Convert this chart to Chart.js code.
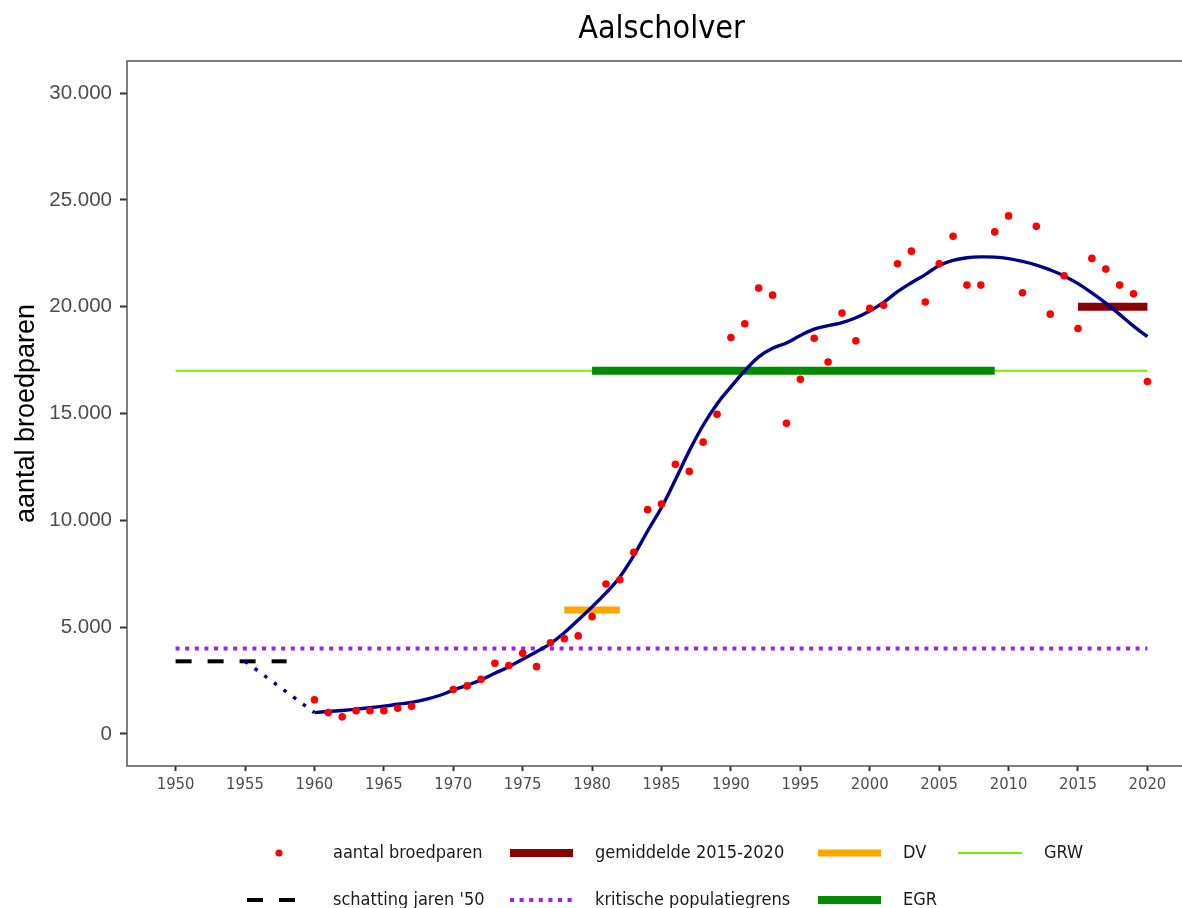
<!DOCTYPE html>
<html>
<head>
<meta charset="utf-8">
<script src="https://cdn.jsdelivr.net/npm/chart.js@4.4.1/dist/chart.umd.min.js"></script>
<style>
  html, body { margin: 0; padding: 0; background: #fff; overflow: hidden; }
  #wrap { width: 1200px; height: 908px; }
</style>
</head>
<body>
<div id="wrap"><canvas id="chart" width="1200" height="908"></canvas></div>
<script>
// counted breeding pairs
const countYears = [1960, 1961, 1962, 1963, 1964, 1965, 1966, 1967, 1970, 1971, 1972, 1973, 1974, 1975,
  1976, 1977, 1978, 1979, 1980, 1981, 1982, 1983, 1984, 1985, 1986, 1987, 1988, 1989, 1990, 1991,
  1992, 1993, 1994, 1995, 1996, 1997, 1998, 1999, 2000, 2001, 2002, 2003, 2004, 2005, 2006, 2007,
  2008, 2009, 2010, 2011, 2012, 2013, 2014, 2015, 2016, 2017, 2018, 2019, 2020];
const countPairs = [1600, 1000, 800, 1090, 1090, 1090, 1200, 1300, 2080, 2250, 2560, 3310, 3200, 3780,
  3150, 4270, 4460, 4590, 5490, 7020, 7220, 8500, 10500, 10760, 12620, 12290, 13660, 14960, 18560, 19200,
  20870, 20540, 14540, 16600, 18520, 17410, 19700, 18400, 19920, 20070, 22010, 22600, 20220, 22010, 23300, 21010,
  21010, 23500, 24250, 20650, 23760, 19650, 21450, 18980, 22260, 21760, 21010, 20600, 16500];

// smoothed trend
const trendYears = [1960, 1961, 1962, 1963, 1964, 1965, 1966, 1967, 1968, 1969, 1970, 1971, 1972, 1973,
  1974, 1975, 1976, 1977, 1978, 1979, 1980, 1981, 1982, 1983, 1984, 1985, 1986, 1987, 1988, 1989, 1990,
  1991, 1992, 1993, 1994, 1995, 1996, 1997, 1998, 1999, 2000, 2001, 2002, 2003, 2004, 2005, 2006, 2007,
  2008, 2009, 2010, 2011, 2012, 2013, 2014, 2015, 2016, 2017, 2018, 2019, 2020];
const trendPairs = [1000, 1050, 1100, 1160, 1230, 1300, 1390, 1480, 1620, 1800, 2050, 2280, 2530, 2840,
  3150, 3500, 3850, 4230, 4740, 5330, 5950, 6600, 7350, 8350, 9500, 10600, 11900, 13250, 14450, 15450, 16250,
  17000, 17650, 18050, 18300, 18650, 18950, 19110, 19250, 19480, 19800, 20200, 20700, 21120, 21500, 21930, 22170, 22290,
  22330, 22320, 22250, 22120, 21950, 21720, 21440, 21080, 20650, 20170, 19640, 19090, 18600];

// estimate for the fifties and the link to the first count
const est50Years = [1950, 1958];
const est50Pairs = [3400, 3400];
const linkYears = [1955, 1960];
const linkPairs = [3400, 1000];

// reference levels
const criticalYears = [1950, 2020];
const criticalLevel = 4000;
const grwYears = [1950, 2020];
const grwLevel = 17000;
const egrYears = [1980, 2009];
const egrLevel = 17000;
const dvYears = [1978, 1982];
const dvLevel = 5800;
const meanYears = [2015, 2020];
const meanLevel = 20000;

const xTicks = [1950, 1955, 1960, 1965, 1970, 1975, 1980, 1985, 1990, 1995, 2000, 2005, 2010, 2015, 2020];
const yTicks = [0, 5000, 10000, 15000, 20000, 25000, 30000];

const pts = (xs, ys) => xs.map((x, i) => ({ x: x, y: Array.isArray(ys) ? ys[i] : ys }));

const legendFont = '18px "DejaVu Sans Condensed", "DejaVu Sans", sans-serif';

const legendItems = [
  { text: 'aantal broedparen', col: 0, row: 0, kind: 'point', color: '#FF0000' },
  { text: 'schatting jaren \'50', col: 0, row: 1, kind: 'line', color: '#000000', width: 4, dash: [16, 16] },
  { text: 'gemiddelde 2015-2020', col: 1, row: 0, kind: 'line', color: '#8B0000', width: 8 },
  { text: 'kritische populatiegrens', col: 1, row: 1, kind: 'line', color: '#A020F0', width: 4, dash: [4, 5.6] },
  { text: 'DV', col: 2, row: 0, kind: 'line', color: '#FFA500', width: 7 },
  { text: 'EGR', col: 2, row: 1, kind: 'line', color: '#008B00', width: 8 },
  { text: 'GRW', col: 3, row: 0, kind: 'line', color: '#76EE00', width: 2 }
];
const legendCols = [{ k0: 247, k1: 297, tx: 333 }, { k0: 510, k1: 573, tx: 595 },
  { k0: 818, k1: 881, tx: 903 }, { k0: 958, k1: 1022, tx: 1044 }];
const legendRows = [853, 900];

const framePlugin = {
  id: 'frame',
  afterDraw(chart) {
    const { ctx, chartArea: a } = chart;
    ctx.save();
    ctx.strokeStyle = '#555555';
    ctx.lineWidth = 1.5;
    ctx.strokeRect(a.left, a.top, a.right - a.left, a.bottom - a.top);
    ctx.restore();
  }
};

const legendPlugin = {
  id: 'gridLegend',
  afterDraw(chart) {
    const ctx = chart.ctx;
    ctx.save();
    legendItems.forEach(it => {
      const c = legendCols[it.col];
      const y = legendRows[it.row];
      if (it.kind === 'point') {
        ctx.fillStyle = it.color;
        ctx.beginPath();
        ctx.arc(279, y, 3.6, 0, Math.PI * 2);
        ctx.fill();
      } else {
        ctx.strokeStyle = it.color;
        ctx.lineWidth = it.width;
        ctx.setLineDash(it.dash || []);
        ctx.lineCap = 'butt';
        ctx.beginPath();
        ctx.moveTo(c.k0, y);
        ctx.lineTo(c.k1, y);
        ctx.stroke();
        ctx.setLineDash([]);
      }
      ctx.fillStyle = '#1A1A1A';
      ctx.font = legendFont;
      ctx.textBaseline = 'middle';
      ctx.textAlign = 'left';
      ctx.fillText(it.text, c.tx, y);
    });
    ctx.restore();
  }
};

const line = (label, data, color, width, dash) => ({
  type: 'line', label, data, borderColor: color, borderWidth: width,
  borderDash: dash || [], pointRadius: 0, fill: false, borderCapStyle: 'butt'
});

new Chart(document.getElementById('chart'), {
  type: 'scatter',
  data: {
    datasets: [
      { type: 'scatter', label: 'aantal broedparen', data: pts(countYears, countPairs),
        backgroundColor: '#FF0000', borderWidth: 0, pointRadius: 3.8 },
      Object.assign(line('trend', pts(trendYears, trendPairs), '#00008B', 3.4),
        { tension: 0.4, borderJoinStyle: 'round' }),
      line('link', pts(linkYears, linkPairs), '#00008B', 3.5, [3.5, 8.5]),
      line('gemiddelde 2015-2020', pts(meanYears, meanLevel), '#8B0000', 8),
      line('DV', pts(dvYears, dvLevel), '#FFA500', 7),
      line('EGR', pts(egrYears, egrLevel), '#008B00', 8),
      line('GRW', pts(grwYears, grwLevel), '#76EE00', 2),
      line('kritische populatiegrens', pts(criticalYears, criticalLevel), '#A020F0', 4, [4, 5.6]),
      line('schatting jaren \'50', pts(est50Years, est50Pairs), '#000000', 4, [16, 16])
    ]
  },
  options: {
    responsive: false,
    animation: false,
    events: [],
    layout: { padding: { top: 0, left: 0, right: 4, bottom: 102 } },
    plugins: {
      legend: { display: false },
      tooltip: { enabled: false },
      title: {
        display: true,
        text: 'Aalscholver',
        fullSize: false,
        color: '#000000',
        font: { family: '"DejaVu Sans Condensed", "DejaVu Sans", sans-serif', size: 32, weight: 'normal', lineHeight: 1.0 },
        padding: { top: 14, bottom: 15 }
      }
    },
    scales: {
      x: {
        type: 'linear',
        min: 1946.5,
        max: 2023.5,
        afterBuildTicks: s => { s.ticks = xTicks.map(v => ({ value: v })); },
        afterFit: s => { s.height = 40; },
        border: { display: false },
        grid: { display: true, drawOnChartArea: false, drawTicks: true, tickLength: 5, tickWidth: 2, tickColor: '#333333' },
        ticks: {
          color: '#4D4D4D',
          padding: 4,
          maxRotation: 0,
          font: { family: '"DejaVu Sans Condensed", "DejaVu Sans", sans-serif', size: 16.5 },
          callback: v => String(v)
        }
      },
      y: {
        type: 'linear',
        min: -1500,
        max: 31500,
        afterBuildTicks: s => { s.ticks = yTicks.map(v => ({ value: v })); },
        afterFit: s => { s.width = 127; },
        border: { display: false },
        grid: { display: true, drawOnChartArea: false, drawTicks: true, tickLength: 7, tickWidth: 2, tickColor: '#333333' },
        ticks: {
          color: '#4D4D4D',
          padding: 8,
          font: { family: '"Liberation Sans", Arial, sans-serif', size: 20.5 },
          callback: v => v === 0 ? '0' : v.toLocaleString('nl-NL')
        },
        title: {
          display: true,
          text: 'aantal broedparen',
          color: '#000000',
          font: { family: '"Liberation Sans", Arial, sans-serif', size: 27 },
          padding: { top: 10, bottom: 0 }
        }
      }
    }
  },
  plugins: [framePlugin, legendPlugin]
});
</script>
</body>
</html>
